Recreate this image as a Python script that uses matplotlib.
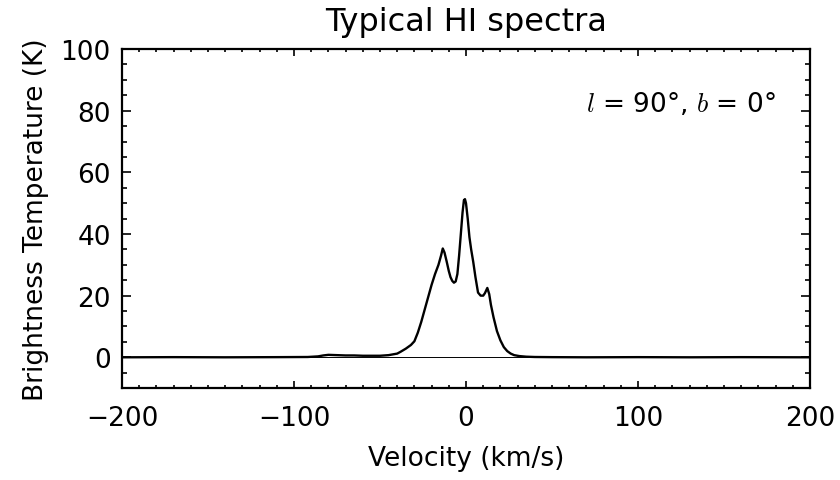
import matplotlib
matplotlib.use("Agg")
from matplotlib import pyplot as plt

# spectrum (km/s, K)
velocity = [-200, -170, -140, -110, -92, -86, -83, -80, -75, -70, -65, -60, -55,
            -50, -45, -40, -38, -35, -32, -30, -28, -26, -24, -22, -20, -18,
            -16, -14.5, -13.5, -12.5, -11.2, -10, -9, -8, -7, -6, -5, -4, -3,
            -2, -1.2, -0.6, 0, 1, 2, 3, 4.2, 5.5, 7, 8.5, 10, 11, 12.4, 13.5,
            14.5, 16, 18, 20, 22, 24, 26, 28, 31, 35, 40, 50, 70, 100, 130,
            160, 200]
temperature = [0.0, 0.05, 0.0, 0.05, 0.1, 0.3, 0.6, 0.8, 0.7, 0.6, 0.6, 0.5, 0.5,
               0.5, 0.7, 1.2, 1.8, 2.8, 4.0, 5.2, 8.0, 11.5, 15.5, 19.5, 23.5, 27.0,
               30.0, 33.0, 35.3, 34.0, 31.0, 28.0, 26.0, 24.8, 24.2, 24.6, 27.0, 33.0, 40.0,
               47.0, 51.0, 51.3, 50.0, 45.0, 39.0, 35.0, 31.0, 26.0, 21.0, 20.0, 20.0, 20.8, 22.5, 20.5,
               17.0, 13.0, 8.5, 5.5, 3.3, 2.0, 1.2, 0.7, 0.4, 0.2, 0.1, 0.05, 0.0, 0.05, 0.0,
               0.05, 0.0]

plt.rcParams['font.family'] = ['DejaVu Sans']
plt.rcParams['mathtext.fontset'] = 'cm'

fig = plt.figure(figsize=(8.4, 4.81), dpi=100)
ax = fig.add_axes([0.1452, 0.191, 0.8191, 0.705])

ax.axhline(0, color='black', linewidth=0.7)
ax.plot(velocity, temperature, '-', color='black', linewidth=1.7)

ax.set_xlim(-200, 200)
ax.set_ylim(-10, 100)
ax.set_xticks([-200, -100, 0, 100, 200])
ax.set_xticks(range(-200, 201, 10), minor=True)
ax.set_yticks([0, 20, 40, 60, 80, 100])
ax.set_yticks(range(-10, 101, 5), minor=True)
ax.set_xticklabels(['\u2212200', '\u2212100', '0', '100', '200'])

ax.tick_params(which='both', direction='in', top=True, right=True,
               labelsize=19, width=1.2)
ax.tick_params(axis='x', which='major', length=5, pad=12)
ax.tick_params(axis='x', which='minor', length=2.5)
ax.tick_params(axis='y', which='major', length=6.5, pad=8)
ax.tick_params(axis='y', which='minor', length=3.5)
for s in ax.spines.values():
    s.set_linewidth(1.6)

ax.set_title('Typical HI spectra', fontsize=23, pad=14)
ax.set_xlabel('Velocity (km/s)', fontsize=19, labelpad=10)
ax.set_ylabel('Brightness Temperature (K)', fontsize=19, labelpad=8)

ax.text(0.95, 0.838, r'$l$ = 90°, $b$ = 0°', transform=ax.transAxes,
        ha='right', va='center', fontsize=19)

fig.savefig('out.png', dpi=100)
